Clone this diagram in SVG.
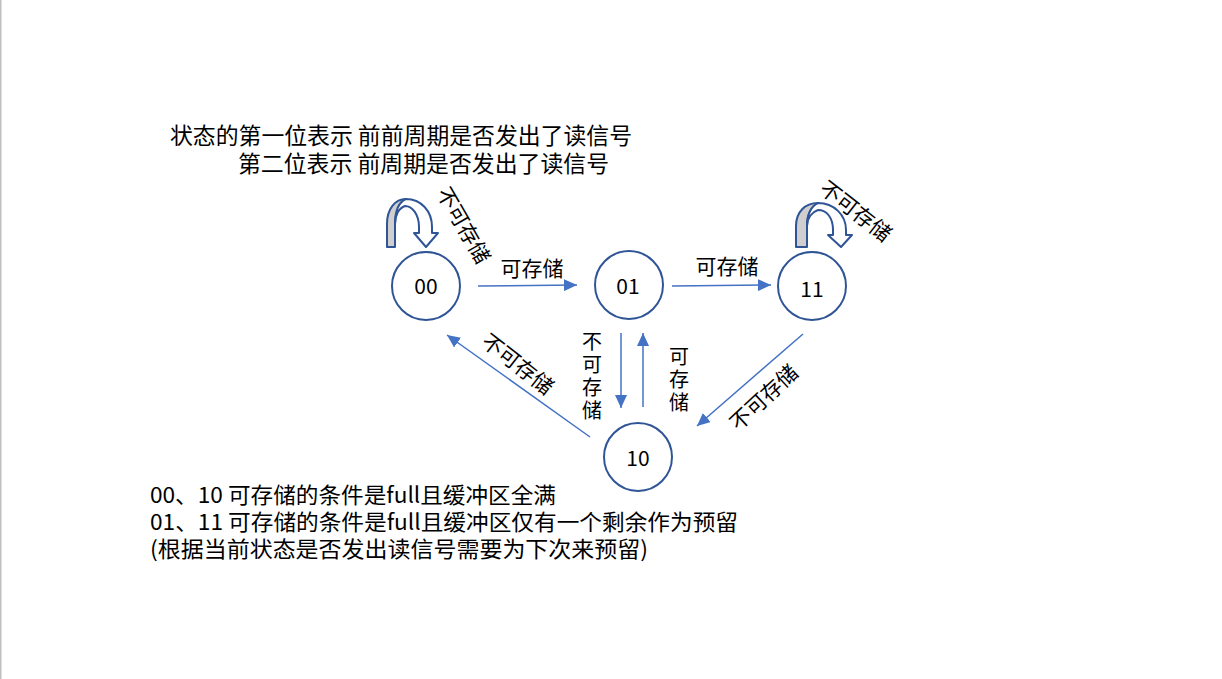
<svg xmlns="http://www.w3.org/2000/svg" width="1222" height="679" viewBox="0 0 1222 679">
<style>
.t{font-family:"Noto Sans CJK SC","Noto Sans",sans-serif;fill:#000}
.node{fill:#fff;stroke:#2F5597;stroke-width:2}
.nt{font-family:"Noto Sans CJK SC","Noto Sans",sans-serif;font-size:21px;text-anchor:middle;fill:#000}
.edge{stroke:#4472C4;stroke-width:1.5;fill:none;marker-end:url(#ah)}
.lbl{font-family:"Noto Sans CJK SC",sans-serif;font-size:21px;text-anchor:middle;fill:#000}
.vl{font-family:"Noto Sans CJK SC",sans-serif;font-size:20px;writing-mode:vertical-rl;text-orientation:upright;letter-spacing:3px;fill:#000}
.loopw{fill:#fff;stroke:#2F5597;stroke-width:2;stroke-linejoin:round}
.loopg{fill:#D0CECE;stroke:#2F5597;stroke-width:2;stroke-linejoin:round}
</style>
<defs>
<marker id="ah" markerUnits="userSpaceOnUse" markerWidth="14" markerHeight="12" refX="13" refY="6" orient="auto">
<path d="M0,0 L13,6 L0,12 Z" fill="#4472C4"/>
</marker>
</defs>
<rect x="0" y="0" width="1222" height="679" fill="#fff"/>
<rect x="0" y="0" width="1.5" height="679" fill="#bfbfbf"/>

<g id="caption-top">
<text class="t" font-size="22.5"><tspan x="170" y="144" textLength="462" lengthAdjust="spacingAndGlyphs">状态的第一位表示 前前周期是否发出了读信号</tspan><tspan x="238" y="172" textLength="371" lengthAdjust="spacingAndGlyphs">第二位表示 前周期是否发出了读信号</tspan></text>
</g>

<g id="connectors">
<line class="edge" x1="478" y1="286" x2="577" y2="285"/>
<line class="edge" x1="672" y1="286" x2="771" y2="285"/>
<line class="edge" x1="621" y1="333" x2="621" y2="408"/>
<line class="edge" x1="643" y1="407" x2="643" y2="333"/>
<line class="edge" x1="803" y1="334" x2="697" y2="426"/>
<line class="edge" x1="590" y1="437" x2="447" y2="335"/>
<text class="lbl" x="532" y="276">可存储</text>
<text class="lbl" x="727" y="274">可存储</text>
<text class="vl" x="592" y="331">不可存储</text>
<text class="vl" x="679" y="346">可存储</text>
<text class="lbl" transform="translate(513,370) rotate(38)">不可存储</text>
<text class="lbl" transform="translate(769,403) rotate(-43)">不可存储</text>
<text class="lbl" transform="translate(457,229) rotate(60)">不可存储</text>
<text class="lbl" transform="translate(851,217) rotate(38)">不可存储</text>
</g>

<g id="loop-00">
<path class="loopg" d="M387,247 L387,224 C387,209 395,199 406,199 C400,204 395,212 395,224 L395,247 Z"/>
<path class="loopw" d="M406,199 C421,199 432,211 432,227 L432,233 L438,233 L426,247 L414,233 L419,233 L419,227 C419,214 412,206 405,206 C399,208 395,215 395,224 C395,211 399,202 406,199 Z"/>
</g>
<g id="loop-11">
<path class="loopg" d="M796,247 L796,226 C796,212 805,203 818,203 C811,207 807,215 807,226 L807,247 Z"/>
<path class="loopw" d="M818,203 C834,203 846,215 846,230 L846,235 L852,235 L841,247 L828,235 L833,235 L833,230 C833,218 827,210 818,210 C812,212 807,218 807,226 C807,215 811,206 818,203 Z"/>
</g>

<g id="node-00"><circle class="node" cx="426" cy="286" r="34"/><text class="nt" x="426" y="294">00</text></g>
<g id="node-01"><circle class="node" cx="629" cy="285" r="34"/><text class="nt" x="628" y="294">01</text></g>
<g id="node-11"><circle class="node" cx="812" cy="286" r="34"/><text class="nt" x="812" y="297">11</text></g>
<g id="node-10"><circle class="node" cx="638" cy="457" r="34"/><text class="nt" x="638" y="466">10</text></g>

<g id="caption-bottom">
<text class="t" font-size="22"><tspan x="150" y="503" textLength="406" lengthAdjust="spacingAndGlyphs">00、10 可存储的条件是full且缓冲区全满</tspan><tspan x="150" y="530" textLength="588" lengthAdjust="spacingAndGlyphs">01、11 可存储的条件是full且缓冲区仅有一个剩余作为预留</tspan><tspan x="150" y="557" textLength="498" lengthAdjust="spacingAndGlyphs">(根据当前状态是否发出读信号需要为下次来预留)</tspan></text>
</g>
</svg>
